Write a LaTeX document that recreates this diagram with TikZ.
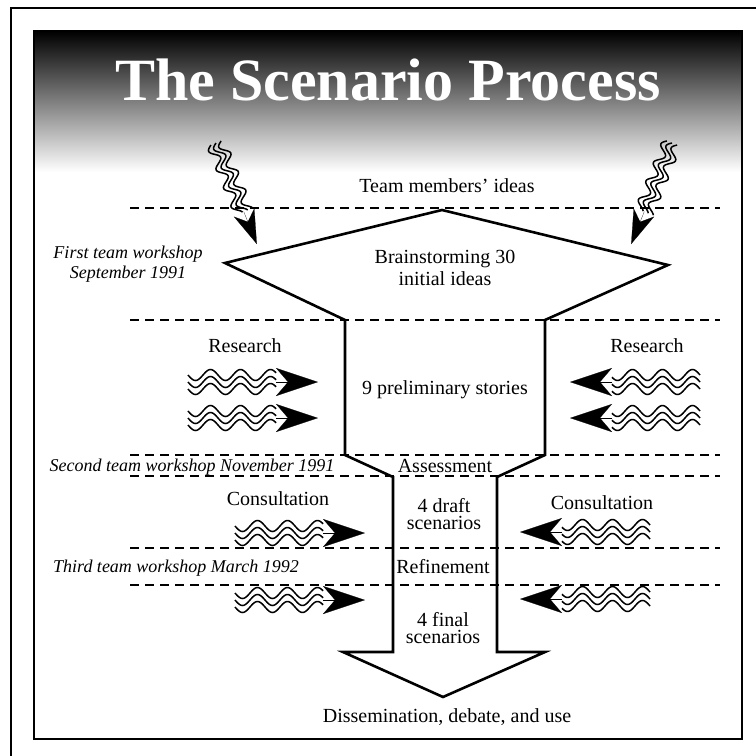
\documentclass[tikz,border=0pt]{standalone}
\usepackage{fontspec}
\setmainfont{Liberation Serif}
\usetikzlibrary{arrows.meta}

\begin{document}
\begin{tikzpicture}[x=0.5pt, y=-0.5pt,
	txt/.style={font=\fontsize{10}{11}\selectfont, inner sep=0pt},
	stage/.style={font=\fontsize{9}{10}\selectfont\itshape, inner sep=0pt},
	titletext/.style={font=\fontsize{30}{30}\selectfont\bfseries, text=white, inner sep=0pt},
	frame/.style={line width=0.8pt},
	funnel/.style={line width=1.3pt, line join=miter},
	divider/.style={line width=0.75pt, dash pattern=on 4.5pt off 3pt},
	wave/.style={line width=0.75pt},
	inhead/.style={line width=0.1pt, -{Stealth[length=21pt, width=14pt, inset=6pt]}},
	tophead/.style={line width=0.1pt, -{Stealth[length=17pt, width=11pt, inset=5pt]}}]
\useasboundingbox (0,0) rectangle (756,756);

% FRAMES AND BANNER
	\draw [frame] (800,8) -- (11,8) -- (11,800);
	\shade [top color=black, middle color=black!45, bottom color=white] 
	(34,31) rectangle (742,172);
	\draw [frame] (34,31) rectangle (742,739);
	\node [titletext, anchor=base] (title) at (388,100) {The Scenario Process};

% STAGE LINES
	\foreach \y in {208,320,455,476,548,585}
		\draw [divider] (130,\y) -- (720,\y);

% FUNNEL
	\draw [funnel] (225,263) -- (442,210) -- (668,265) -- (545,320) 
	-- (545,455) -- (497,477) -- (497,652) -- (545,652) -- (443,697)
	-- (343,652) -- (393,652) -- (393,477) -- (345,455) -- (345,320) -- cycle;

% INPUTS FROM OUTSIDE
	\foreach \sx/\sy/\a in {216/143/-68, 672/143/-112}{
		\begin{scope}[shift={(\sx,\sy)}, rotate=\a]
		\foreach \dy in {-5.5,0,5.5}
			\draw [wave] plot [domain=0:74, samples=60, smooth] (\x, {\dy+4.5*sin(\x*18)});
		\draw [tophead] (74,0) -- (109,0);
		\end{scope}
	}
	\foreach \sx/\sy/\a in {188/382/0, 188/418/0, 700/382/180, 700/418/180,
		235/533/0, 235/600/0, 650/532/180, 650/599/180}{
		\begin{scope}[shift={(\sx,\sy)}, rotate=\a]
		\foreach \dy in {-7,0,7}
			\draw [wave] plot [domain=0:88, samples=60, smooth] (\x, {\dy+5.5*sin(\x*12)});
		\draw [inhead] (88,0) -- (130,0);
		\end{scope}
	}

% LABELS
	\node [txt, anchor=base] (team) at (447,192) {Team members' ideas};
	\node [txt, align=center, anchor=base] (brain) at (445,285) {Brainstorming 30\\initial ideas};
	\node [stage, align=center, anchor=base] (ws1) at (128,278) {First team workshop\\September 1991};
	\node [txt, anchor=base] (resl) at (245,352) {Research};
	\node [txt, anchor=base] (resr) at (647,352) {Research};
	\node [txt, anchor=base] (prelim) at (445,394) {9 preliminary stories};
	\node [stage, anchor=base] (ws2) at (192,471) {Second team workshop November 1991};
	\node [txt, anchor=base] (assess) at (445,472) {Assessment};
	\node [txt, anchor=base] (consl) at (278,505) {Consultation};
	\node [txt, anchor=base] (consr) at (602,509) {Consultation};
	\node [txt, align=center, anchor=base, font=\fontsize{10}{8.5}\selectfont] (draft) at (444,529) {4 draft\\scenarios};
	\node [stage, anchor=base] (ws3) at (176,572) {Third team workshop March 1992};
	\node [txt, anchor=base] (refine) at (443,573) {Refinement};
	\node [txt, align=center, anchor=base, font=\fontsize{10}{8.5}\selectfont] (final) at (443,643) {4 final\\scenarios};
	\node [txt, anchor=base] (use) at (447,722) {Dissemination, debate, and use};

\end{tikzpicture}
\end{document}
